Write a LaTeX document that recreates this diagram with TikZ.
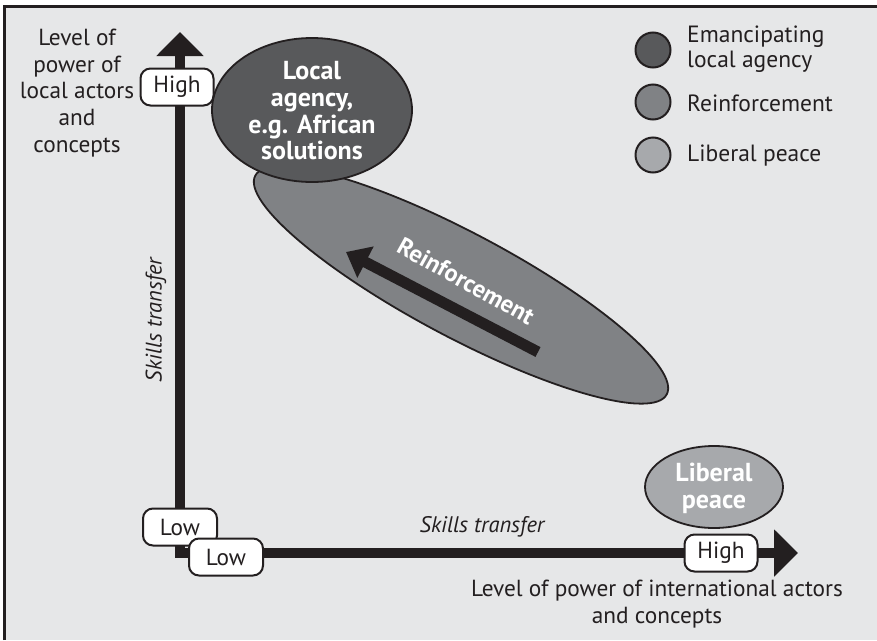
\documentclass[tikz,border=0pt]{standalone}
\usepackage{fontspec}
\setmainfont{PT Sans}
\usetikzlibrary{arrows.meta,shapes.geometric}
\definecolor{bg}{HTML}{E6E7E8}
\definecolor{ink}{HTML}{231F20}
\definecolor{darkfill}{HTML}{58595B}
\definecolor{midfill}{HTML}{808285}
\definecolor{lightfill}{HTML}{A7A9AC}
\begin{document}
\begin{tikzpicture}[x=1pt,y=-1pt,
  txt/.style={font=\fontsize{23.3}{26.8}\selectfont, text=ink, align=center, inner sep=0pt},
  itxt/.style={font=\itshape\fontsize{22.5}{26}\selectfont, text=ink, inner sep=0pt},
  inblob/.style={font=\bfseries\fontsize{26}{26.7}\selectfont, text=white, align=center, inner sep=0pt},
  tag/.style={draw=ink, line width=2pt, fill=white, rounded corners=10pt,
    minimum width=73pt, minimum height=37pt, inner sep=0pt,
    font=\fontsize{23.3}{26}\selectfont, text=ink},
  blob/.style={ellipse, draw=ink, line width=1.8pt, inner sep=0pt},
  key/.style={circle, draw=ink, line width=2pt, minimum size=35pt, inner sep=0pt},
  keytxt/.style={font=\fontsize{23.5}{25}\selectfont, text=ink, align=left, anchor=west, inner sep=0pt},
  axis/.style={draw=ink, line width=10pt, line join=miter,
    {Triangle[length=24pt,width=46pt]}-{Triangle[length=24pt,width=46pt]}},
  push/.style={draw=ink, line width=11pt, -{Triangle[length=22pt,width=34pt]}}
]
\useasboundingbox (0,0) rectangle (877,640);
% panel background and frame
\fill[white] (0,0) rectangle (877,640);
\fill[bg] (4,7) rectangle (877,640);
\draw[ink, line width=3pt] (4,640) -- (4,6.5) -- (877,6.5);

% axes
\coordinate (ytop) at (180,32);
\coordinate (origin) at (180,553);
\coordinate (xend) at (798,553);
\draw[axis] (ytop) -- (origin) -- (xend);

% regions
\node[blob, fill=midfill, minimum width=466pt, minimum height=104pt, rotate=-28] (reinf) at (461,285) {};
\coordinate (rtail) at (538,352);
\coordinate (rhead) at (346,252);
\draw[push] (rtail) -- (rhead);
\node[inblob, font=\bfseries\fontsize{24.5}{26}\selectfont, rotate=-29] (reinftxt) at (466,281) {Reinforcement};

\node[blob, fill=darkfill, minimum width=200pt, minimum height=144pt] (local) at (312,110) {};
\node[inblob] (localtxt) at (312,111) {Local\\agency,\\e.g. African\\solutions};

\node[blob, fill=lightfill, minimum width=138pt, minimum height=82pt] (liberal) at (714,487) {};
\node[inblob] (liberaltxt) at (714,488) {Liberal\\peace};

% axis tags
\node[tag] (yhigh) at (177,87) {High};
\node[tag, minimum width=74pt] (ylow) at (180,527) {Low};
\node[tag, minimum width=74pt] (xlow) at (226,557) {Low};
\node[tag] (xhigh) at (721,553) {High};

% axis captions
\node[txt] (ycap) at (77,93) {Level of\\power of\\local actors\\and\\concepts};
\node[txt] (xcap) at (657,604) {Level of power of international actors\\and concepts};
\node[itxt, rotate=90] (yskill) at (156,320) {Skills transfer};
\node[itxt] (xskill) at (482,527) {Skills transfer};

% key
\node[key, fill=darkfill] (k1) at (653,50) {};
\node[key, fill=midfill] (k2) at (653,102) {};
\node[key, fill=lightfill] (k3) at (653,155) {};
\node[keytxt] (k1t) at (687,49) {Emancipating\\local agency};
\node[keytxt] (k2t) at (687,103) {Reinforcement};
\node[keytxt] (k3t) at (687,156) {Liberal peace};
\end{tikzpicture}
\end{document}
